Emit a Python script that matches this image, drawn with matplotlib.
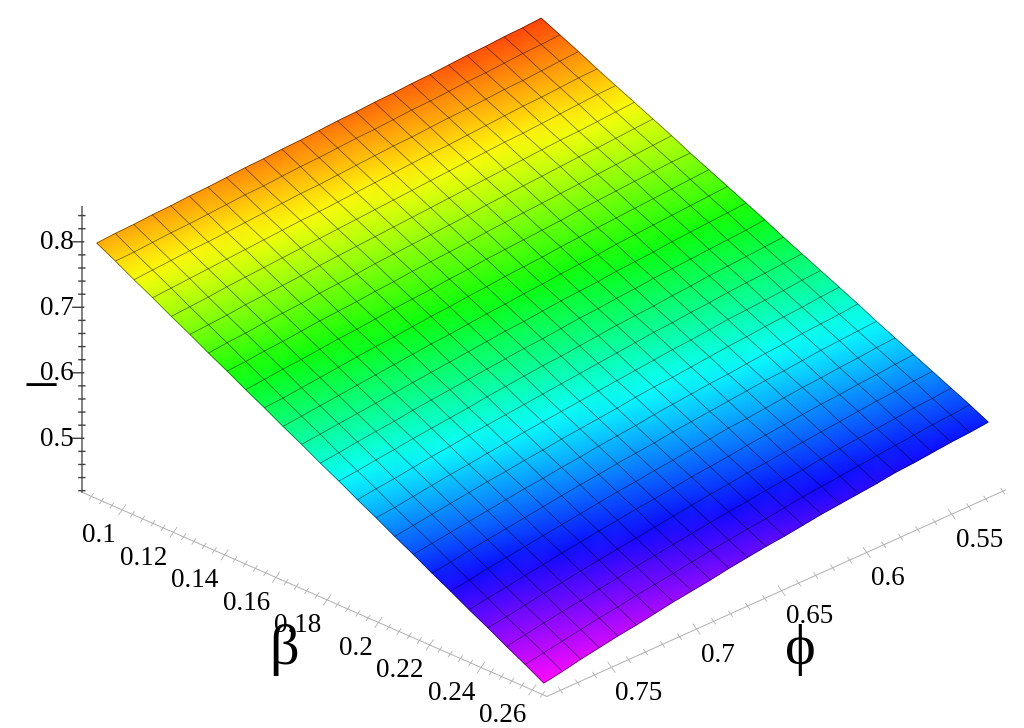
import colorsys

import matplotlib
matplotlib.use('Agg')
import matplotlib.pyplot as plt
from matplotlib.colors import LinearSegmentedColormap
from mpl_toolkits.mplot3d import proj3d
import numpy as np

# surface values, rows go along beta, columns go from phi max to phi min
z_rows = [
    [.800, .802, .803, .805, .806, .808, .809, .811, .813, .814, .816, .817, .819, .821, .822, .824, .825, .827, .828, .830, .832, .833, .835, .836, .838],
    [.785, .786, .788, .790, .791, .793, .795, .797, .798, .800, .802, .803, .805, .807, .808, .810, .812, .813, .815, .817, .818, .820, .822, .823, .825],
    [.769, .771, .773, .775, .776, .778, .780, .782, .784, .786, .787, .789, .791, .793, .795, .796, .798, .800, .801, .803, .805, .806, .808, .810, .812],
    [.754, .756, .758, .760, .762, .764, .766, .768, .770, .771, .773, .775, .777, .779, .781, .783, .784, .786, .788, .790, .792, .793, .795, .797, .798],
    [.738, .740, .742, .745, .747, .749, .751, .753, .755, .757, .759, .761, .763, .765, .767, .769, .771, .773, .775, .776, .778, .780, .782, .784, .785],
    [.723, .725, .727, .730, .732, .734, .736, .739, .741, .743, .745, .747, .749, .751, .753, .755, .757, .759, .761, .763, .765, .766, .768, .770, .772],
    [.707, .710, .712, .715, .717, .719, .722, .724, .726, .729, .731, .733, .735, .737, .739, .742, .744, .746, .748, .750, .752, .753, .755, .757, .759],
    [.692, .694, .697, .699, .702, .705, .707, .709, .712, .714, .717, .719, .721, .723, .726, .728, .730, .732, .734, .736, .738, .740, .742, .744, .746],
    [.676, .679, .682, .684, .687, .690, .692, .695, .698, .700, .702, .705, .707, .710, .712, .714, .716, .718, .721, .723, .725, .727, .729, .731, .732],
    [.661, .663, .666, .669, .672, .675, .678, .680, .683, .686, .688, .691, .693, .696, .698, .700, .703, .705, .707, .709, .711, .713, .715, .717, .719],
    [.645, .648, .651, .654, .657, .660, .663, .666, .669, .671, .674, .677, .679, .682, .684, .687, .689, .691, .694, .696, .698, .700, .702, .704, .706],
    [.630, .633, .636, .639, .642, .645, .648, .651, .654, .657, .660, .663, .665, .668, .671, .673, .675, .678, .680, .682, .685, .687, .689, .691, .693],
    [.614, .617, .621, .624, .627, .631, .634, .637, .640, .643, .646, .649, .651, .654, .657, .659, .662, .664, .667, .669, .671, .673, .675, .677, .680],
    [.599, .602, .606, .609, .613, .616, .619, .622, .626, .629, .632, .635, .637, .640, .643, .646, .648, .650, .653, .655, .658, .660, .662, .664, .666],
    [.583, .587, .590, .594, .598, .601, .605, .608, .611, .614, .617, .620, .623, .626, .629, .632, .635, .637, .640, .642, .645, .647, .649, .651, .653],
    [.568, .571, .575, .579, .583, .586, .590, .593, .597, .600, .603, .606, .609, .612, .615, .618, .621, .623, .626, .629, .631, .633, .635, .638, .640],
    [.552, .556, .560, .564, .568, .572, .575, .579, .582, .586, .589, .592, .595, .599, .602, .604, .607, .610, .613, .615, .618, .620, .622, .625, .627],
    [.537, .541, .545, .549, .553, .557, .561, .564, .568, .571, .575, .578, .581, .585, .588, .591, .594, .596, .599, .602, .604, .607, .609, .611, .614],
    [.521, .525, .530, .534, .538, .542, .546, .550, .554, .557, .561, .564, .567, .571, .574, .577, .580, .583, .586, .588, .591, .594, .596, .598, .600],
    [.506, .510, .515, .519, .523, .527, .531, .535, .539, .543, .546, .550, .553, .557, .560, .564, .566, .569, .572, .575, .577, .580, .582, .585, .587],
    [.490, .495, .499, .504, .508, .513, .517, .521, .525, .529, .532, .536, .540, .543, .546, .550, .553, .556, .559, .562, .564, .567, .569, .572, .574],
    [.475, .479, .484, .489, .493, .498, .502, .506, .510, .514, .518, .522, .526, .529, .533, .536, .539, .542, .545, .548, .551, .554, .556, .559, .561],
    [.459, .464, .469, .474, .478, .483, .487, .492, .496, .500, .504, .508, .512, .515, .519, .522, .525, .529, .532, .535, .537, .540, .543, .545, .548],
    [.444, .449, .454, .459, .464, .468, .473, .477, .481, .486, .490, .494, .498, .501, .505, .509, .512, .515, .518, .521, .524, .527, .530, .532, .535],
    [.428, .433, .439, .444, .449, .453, .458, .463, .467, .471, .476, .480, .484, .487, .491, .495, .498, .501, .504, .508, .510, .513, .516, .518, .521],
]
beta_range = [.0878, .2622]
phi_range = [.7845, .5233]

# axis box and labelled ticks
beta_lim = [.0843, .2657]
phi_lim = [.788, .518]
z_lim = [.4177, .853]
beta_labels = ['0.1', '0.12', '0.14', '0.16', '0.18', '0.2', '0.22', '0.24', '0.26']
phi_labels = ['0.55', '0.6', '0.65', '0.7', '0.75']
z_labels = ['0.5', '0.6', '0.7', '0.8']

plt.rcParams['font.family'] = ['Liberation Serif', 'DejaVu Serif']

Z = np.array(z_rows)
beta = np.linspace(beta_range[0], beta_range[1], Z.shape[0])
phi = np.linspace(phi_range[0], phi_range[1], Z.shape[1])
B, P = np.meshgrid(beta, phi, indexing='ij')

fig = plt.figure(figsize=(10.24, 7.28), dpi=100)
S = 949.
cx, cy = 531.2, 728 - 361.2
ax = fig.add_axes([(cx - S/2)/1024, (cy - S/2)/728, S/1024, S/728], projection='3d',
                  proj_type='ortho', computed_zorder=False, zorder=2)
ax.view_init(elev=26.4, azim=-45.35)
ax.set_box_aspect((1, 1, 0.487))
ax.set_xlim(beta_lim[0], beta_lim[1], view_margin=0)
ax.set_ylim(phi_lim[0], phi_lim[1], view_margin=0)
ax.set_zlim(z_lim[0], z_lim[1], view_margin=0)
ax.set_axis_off()
ax.patch.set_alpha(0)
ax.apply_aspect()
M = ax.get_proj()

# zhue colouring, magenta at the lowest point up to orange-red at the highest
hues = np.linspace(300, 14, 60) / 360.
zhue = LinearSegmentedColormap.from_list('zhue', [colorsys.hsv_to_rgb(h, 0.96, 1) for h in hues])

# smooth shading goes on a flat axes in pixels underneath, at the projected grid points
nr, nc = Z.shape
tris = []
for i in range(nr - 1):
    for j in range(nc - 1):
        a = i*nc + j
        tris.append([a, a + nc, a + 1])
        tris.append([a + 1, a + nc, a + nc + 1])
px, py, _ = proj3d.proj_transform(B.ravel(), P.ravel(), Z.ravel(), M)
pix = ax.transData.transform(np.column_stack([px, py]))
ax2 = fig.add_axes([0, 0, 1, 1], zorder=1)
ax2.set_xlim(0, 1024)
ax2.set_ylim(0, 728)
ax2.axis('off')
ax2.tripcolor(pix[:, 0], pix[:, 1], tris, Z.ravel(), shading='gouraud', cmap=zhue,
              vmin=Z.min(), vmax=Z.max())
ax.plot_wireframe(B, P, Z, color='black', linewidth=0.5, alpha=0.6, zorder=3)


def label3d(b, p, v, text, dx, dy, ha):
    x2, y2, _ = proj3d.proj_transform(b, p, v, M)
    ax.annotate(text, xy=(x2, y2), xytext=(dx, dy), textcoords='offset pixels', fontsize=19.5,
                ha=ha, va='center', annotation_clip=False, zorder=5)


# axis lines
axis_grey = '#b0b0b0'
ax.plot(beta_lim, [phi_lim[0]]*2, [z_lim[0]]*2, color=axis_grey, lw=0.7, zorder=1)
ax.plot([beta_lim[1]]*2, phi_lim, [z_lim[0]]*2, color=axis_grey, lw=0.7, zorder=1)
ax.plot([beta_lim[0]]*2, [phi_lim[0]]*2, z_lim, color='#808080', lw=1.4, zorder=1)

# beta ticks, small ones every 0.004
for k in range(45):
    b = .088 + .004*k
    major = k % 5 == 3
    f = 1 if major else 0.55
    ax.plot([b, b], [phi_lim[0] + .00207*f, phi_lim[0] - .00207*f],
            [z_lim[0] - .00525*f, z_lim[0] + .00525*f], color=axis_grey, lw=0.6, zorder=1)
for k, lab in enumerate(beta_labels):
    label3d(.1 + .02*k, phi_lim[0], z_lim[0], lab, -6, -26, 'right')

# phi ticks, small ones every 0.01
for k in range(27):
    p = .52 + .01*k
    major = k % 5 == 3
    f = 1 if major else 0.55
    ax.plot([beta_lim[1] - .00137*f, beta_lim[1] + .00137*f], [p, p],
            [z_lim[0] + .0053*f, z_lim[0] - .0053*f], color=axis_grey, lw=0.6, zorder=1)
for k, lab in enumerate(phi_labels):
    label3d(beta_lim[1], .55 + .05*k, z_lim[0], lab, 4, -26, 'left')

# z ticks, small ones every 0.02
for k in range(22):
    v = .42 + .02*k
    major = k % 5 == 4
    if major:
        d0, d1 = .0098*1.0, -.002
    else:
        d0, d1 = .0032, -.0032
    ax.plot([beta_lim[0] - d0*.1814, beta_lim[0] - d1*.1814],
            [phi_lim[0] + d0*.27, phi_lim[0] + d1*.27], [v, v], color='#404040', lw=1.0, zorder=1)
for k, lab in enumerate(z_labels):
    label3d(beta_lim[0], phi_lim[0], .5 + .1*k, lab, -8, -1, 'right')

# big axis titles
fig.text(284/1024, 1 - 650/728, '\u03b2', fontsize=42, ha='center', va='center', zorder=6)
fig.text(800/1024, 1 - 650/728, '\u03d5', fontsize=42, ha='center', va='center', zorder=6)
fig.text(41/1024, 1 - 365/728, '_', fontsize=42, ha='center', va='center', zorder=6)

fig.savefig('out.png', dpi=100)
